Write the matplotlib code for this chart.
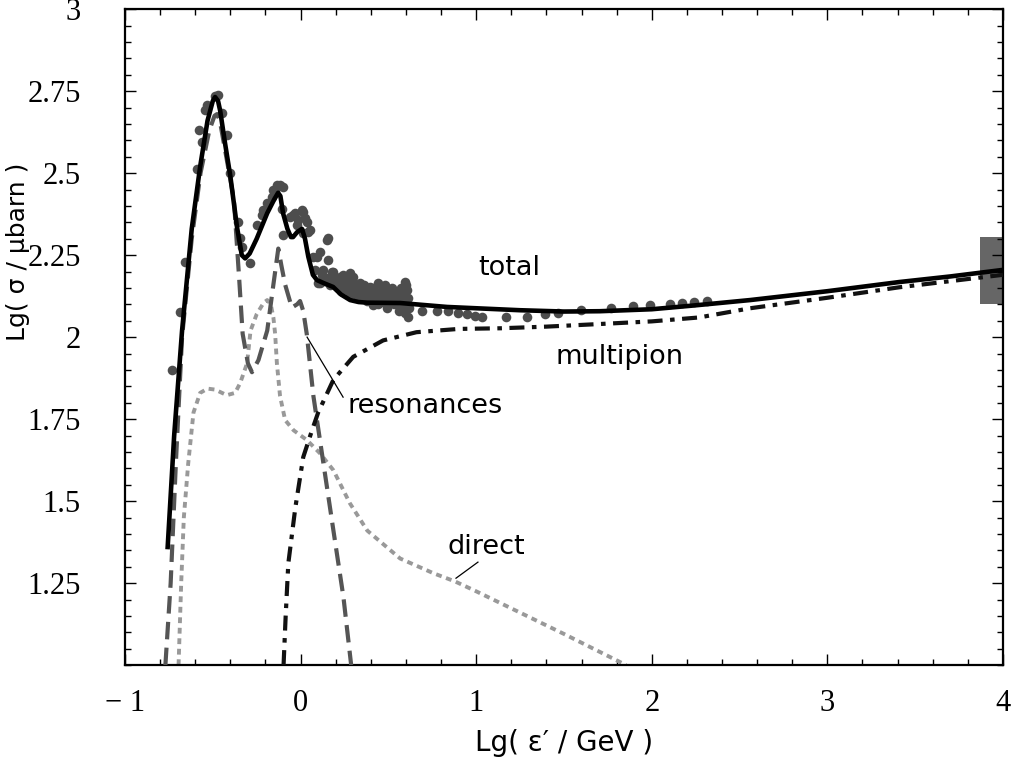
import numpy as np
import matplotlib
matplotlib.use('Agg')
import matplotlib.pyplot as plt
from matplotlib.patches import Rectangle
from matplotlib.ticker import MultipleLocator

# measured photoproduction points (lg eps', lg sigma)
data_x = [-0.732, -0.686, -0.658, -0.589, -0.578, -0.561, -0.544, -0.532, -0.487,
          -0.470, -0.447, -0.419, -0.401, -0.356, -0.345, -0.333, -0.287, -0.248,
          -0.219, -0.214, -0.191, -0.162, -0.157, -0.145, -0.134, -0.117, -0.100,
          -0.105, -0.060, -0.043, -0.031, -0.020, -0.014, 0.009, 0.014, 0.014,
          0.026, 0.037, 0.043, 0.054, -0.100, 0.071, 0.083, 0.094, 0.100, 0.111,
          0.111, 0.128, 0.151, 0.157, 0.157, 0.185, 0.19, 0.21, 0.225, 0.242,
          0.25, 0.265, 0.265, 0.282, 0.299, 0.299, 0.30, 0.32, 0.339, 0.35,
          0.356, 0.36, 0.38, 0.396, 0.40, 0.413, 0.42, 0.441, 0.44, 0.45, 0.46,
          0.470, 0.48, 0.481, 0.49, 0.50, 0.52, 0.527, 0.53, 0.55, 0.56, 0.57,
          0.58, 0.584, 0.595, 0.595, 0.60, 0.60, 0.607, 0.61, 0.612,
          0.12, 0.14, 0.17, 0.20, 0.22, 0.24, 0.27, 0.29, 0.31, 0.33, 0.34,
          0.37, 0.39, 0.41, 0.43, 0.47, 0.51, 0.54, 0.56, 0.59, 0.62, 0.38,
          0.43, 0.48, 0.53, 0.57, 0.28, 0.23, 0.18, 0.15,
          0.692, 0.777, 0.840, 0.897, 0.948, 0.994, 1.034, 1.170, 1.290, 1.392,
          1.466, 1.597, 1.768, 1.894, 1.990, 2.104, 2.172, 2.240, 2.315]
data_y = [1.899, 2.076, 2.229, 2.512, 2.631, 2.595, 2.692, 2.707, 2.735,
          2.738, 2.683, 2.616, 2.500, 2.351, 2.302, 2.274, 2.226, 2.341,
          2.372, 2.387, 2.409, 2.427, 2.448, 2.448, 2.463, 2.463, 2.457,
          2.390, 2.366, 2.372, 2.378, 2.341, 2.357, 2.387, 2.381, 2.317,
          2.363, 2.351, 2.320, 2.326, 2.311, 2.244, 2.204, 2.244, 2.165, 2.259,
          2.165, 2.204, 2.296, 2.235, 2.302, 2.198, 2.18, 2.17, 2.183, 2.189,
          2.16, 2.174, 2.143, 2.195, 2.183, 2.134, 2.16, 2.15, 2.165, 2.14,
          2.122, 2.16, 2.13, 2.152, 2.14, 2.098, 2.12, 2.165, 2.10, 2.13, 2.14,
          2.107, 2.12, 2.159, 2.09, 2.11, 2.15, 2.137, 2.10, 2.12, 2.08, 2.10,
          2.13, 2.091, 2.168, 2.073, 2.10, 2.16, 2.143, 2.06, 2.119,
          2.19, 2.17, 2.16, 2.165, 2.15, 2.17, 2.15, 2.17, 2.13, 2.15, 2.12,
          2.15, 2.12, 2.15, 2.11, 2.13, 2.12, 2.13, 2.14, 2.11, 2.09, 2.11,
          2.13, 2.14, 2.12, 2.15, 2.13, 2.14, 2.20, 2.18,
          2.079, 2.079, 2.079, 2.073, 2.070, 2.064, 2.061, 2.061, 2.061, 2.070,
          2.073, 2.082, 2.088, 2.095, 2.098, 2.101, 2.104, 2.107, 2.110]

# model components
total_x = [-0.757, -0.72, -0.675, -0.62, -0.572, -0.53, -0.50, -0.487, -0.47,
           -0.458, -0.43, -0.40, -0.362, -0.335, -0.316, -0.29, -0.25, -0.19,
           -0.15, -0.128, -0.115, -0.10, -0.075, -0.055, -0.043, -0.02, 0.008,
           0.025, 0.044, 0.07, 0.093, 0.13, 0.185, 0.23, 0.282, 0.33, 0.38,
           0.567, 0.834, 1.0, 1.25, 1.5, 1.705, 2.0, 2.25, 2.56, 3.0, 3.41,
           3.7, 4.0]
total_y = [1.36, 1.70, 2.02, 2.33, 2.52, 2.66, 2.72, 2.732, 2.72,
           2.69, 2.59, 2.49, 2.335, 2.25, 2.24, 2.255, 2.30, 2.378,
           2.42, 2.44, 2.43, 2.378, 2.33, 2.305, 2.305, 2.32, 2.33,
           2.30, 2.245, 2.19, 2.174, 2.165, 2.153, 2.13, 2.113, 2.107, 2.105,
           2.104, 2.092, 2.088, 2.082, 2.078, 2.079, 2.085, 2.097, 2.113, 2.140,
           2.168, 2.185, 2.205]

res_x = [-0.77, -0.74, -0.71, -0.675, -0.62, -0.57, -0.52, -0.49, -0.476,
         -0.46, -0.43, -0.38, -0.35, -0.33, -0.30, -0.277, -0.24, -0.19,
         -0.155, -0.127, -0.11, -0.088, -0.05, -0.02, -0.003, 0.015, 0.035,
         0.073, 0.13, 0.187, 0.244, 0.288]
res_y = [1.0, 1.25, 1.62, 2.0, 2.30, 2.50, 2.63, 2.675, 2.68,
         2.66, 2.57, 2.42, 2.18, 2.01, 1.92, 1.893, 1.93, 2.02,
         2.16, 2.27, 2.22, 2.16, 2.09, 2.10, 2.11, 2.08, 2.01,
         1.82, 1.615, 1.41, 1.207, 1.0]

dir_x = [-0.695, -0.68, -0.665, -0.64, -0.61, -0.572, -0.53, -0.487, -0.42,
         -0.373, -0.344, -0.305, -0.285, -0.25, -0.21, -0.19, -0.17, -0.155,
         -0.145, -0.135, -0.117, -0.088, -0.04, 0.036, 0.11, 0.187, 0.28,
         0.38, 0.567, 0.757, 0.88, 1.0, 1.25, 1.5, 1.854]
dir_y = [1.0, 1.25, 1.45, 1.615, 1.77, 1.83, 1.843, 1.84, 1.823,
         1.83, 1.86, 1.92, 2.02, 2.07, 2.105, 2.113, 2.10, 2.06,
         2.01, 1.92, 1.82, 1.747, 1.716, 1.686, 1.646, 1.594, 1.494,
         1.41, 1.325, 1.28, 1.255, 1.225, 1.16, 1.095, 1.0]

multi_x = [-0.097, -0.085, -0.07, -0.03, 0.015, 0.065, 0.10, 0.187, 0.30,
           0.47, 0.66, 0.9, 1.14, 1.4, 1.705, 2.0, 2.27, 2.56, 3.0, 3.41, 4.0]
multi_y = [1.0, 1.15, 1.31, 1.48, 1.634, 1.716, 1.77, 1.87, 1.94,
           1.99, 2.015, 2.025, 2.027, 2.032, 2.04, 2.048, 2.06, 2.088, 2.12,
           2.152, 2.19]

yticks = [1.25, 1.5, 1.75, 2, 2.25, 2.5, 2.75, 3]
ylabels = ['1.25', '1.5', '1.75', '2', '2.25', '2.5', '2.75', '3']
xticks = [-1, 0, 1, 2, 3, 4]
xlabels = ['\u2212 1', '0', '1', '2', '3', '4']

fig = plt.figure(figsize=(10.13, 7.61), dpi=100)
ax = fig.add_axes([0.1234, 0.126, 0.8667, 0.862])

# error box at the highest energy
ax.add_patch(Rectangle((3.87, 2.1), 0.2, 0.205, color='#666666', lw=0, zorder=1))

ax.plot(dir_x, dir_y, color='#999999', lw=2.8, dashes=(1.5, 1.2), zorder=2)
ax.plot(res_x, res_y, color='#555555', lw=3.0, dashes=(4.2, 2.0), zorder=3)
ax.plot(multi_x, multi_y, color='#111111', lw=3.0, dashes=(3.6, 1.8, 1.1, 1.8), zorder=3)
ax.scatter(data_x, data_y, s=48, color='#4d4d4d', lw=0, zorder=4)
ax.plot(total_x, total_y, color='black', lw=3.3, zorder=5)

lab = dict(family='DejaVu Sans', fontsize=19.5, va='center', ha='left')
ax.text(1.01, 2.21, 'total', **lab)
ax.text(1.45, 1.94, 'multipion', **lab)
ax.text(0.265, 1.79, 'resonances', **lab)
ax.text(0.835, 1.36, 'direct', **lab)
ax.plot([0.037, 0.242], [2.0, 1.817], color='black', lw=0.9, zorder=6)
ax.plot([0.885, 1.01], [1.265, 1.314], color='black', lw=0.9, zorder=6)

ax.set_xlim(-1, 4)
ax.set_ylim(1, 3)
ax.set_xticks(xticks)
ax.set_xticklabels(xlabels, family='Liberation Serif', fontsize=22)
ax.set_yticks(yticks)
ax.set_yticklabels(ylabels, family='Liberation Serif', fontsize=22)
ax.xaxis.set_minor_locator(MultipleLocator(0.2))
ax.yaxis.set_minor_locator(MultipleLocator(0.05))
ax.tick_params(which='both', direction='in', top=True, right=True, width=1)
ax.tick_params(which='major', length=8)
ax.tick_params(which='minor', length=4)
ax.tick_params(axis='x', which='major', pad=17)
ax.tick_params(axis='y', which='major', pad=32)
for s in ax.spines.values():
    s.set_linewidth(1.6)

ax.set_xlabel('Lg( \u03b5\u2032 / GeV )', family='DejaVu Sans', fontsize=20, labelpad=8)
ax.set_ylabel('Lg( \u03c3 / \u03bcbarn )', family='DejaVu Sans', fontsize=18)
ax.yaxis.set_label_coords(-0.108, 0.63)

plt.savefig('out.png', dpi=100)
